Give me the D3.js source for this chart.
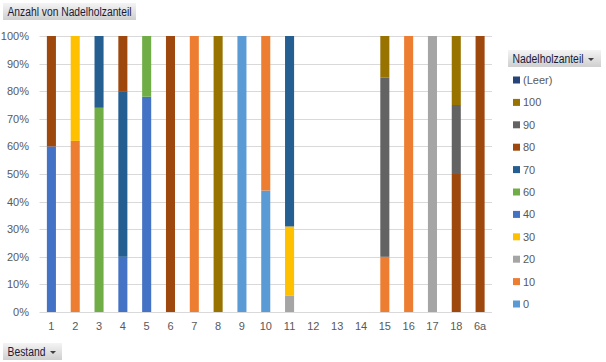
<!DOCTYPE html>
<html lang="en">
<head>
<meta charset="utf-8">
<title>Anzahl von Nadelholzanteil</title>
<script src="https://cdn.jsdelivr.net/npm/d3@7"></script>
<style>
  body { margin: 0; background: #fff; }
  svg text { font-family: "Liberation Sans", Arial, sans-serif; }
</style>
</head>
<body>
<div id="chart"></div>
<script>
// categories (Bestand)
const categories = ["1","2","3","4","5","6","7","8","9","10","11","12","13","14","15","16","17","18","6a"];

// share per Nadelholzanteil, in percent of each Bestand
const s0    = [0,0,0,0,0,0,0,0,100,44,0,0,0,0,0,0,0,0,0];
const s10   = [0,62,0,0,0,0,100,0,0,56,0,0,0,0,20,100,0,0,0];
const s20   = [0,0,0,0,0,0,0,0,0,0,6,0,0,0,0,0,100,0,0];
const s30   = [0,38,0,0,0,0,0,0,0,0,25,0,0,0,0,0,0,0,0];
const s40   = [60,0,0,20,78,0,0,0,0,0,0,0,0,0,0,0,0,0,0];
const s60   = [0,0,74,0,22,0,0,0,0,0,0,0,0,0,0,0,0,0,0];
const s70   = [0,0,26,60,0,0,0,0,0,0,69,0,0,0,0,0,0,0,0];
const s80   = [40,0,0,20,0,100,0,0,0,0,0,0,0,0,0,0,0,50,100];
const s90   = [0,0,0,0,0,0,0,0,0,0,0,0,0,0,65,0,0,25,0];
const s100  = [0,0,0,0,0,0,0,100,0,0,0,0,0,0,15,0,0,25,0];
const sLeer = [0,0,0,0,0,0,0,0,0,0,0,0,0,0,0,0,0,0,0];

const seriesNames = ["0","10","20","30","40","60","70","80","90","100","(Leer)"];
const seriesValues = [s0,s10,s20,s30,s40,s60,s70,s80,s90,s100,sLeer];
const seriesColors = ["#5B9BD5","#ED7D31","#A5A5A5","#FFC000","#4472C4","#70AD47","#255E91","#9E480E","#636363","#997300","#264478"];

const yTicks = [0,10,20,30,40,50,60,70,80,90,100];

const w = 606, h = 362;
const svg = d3.select("#chart").append("svg")
  .attr("width", w).attr("height", h);

const defs = svg.append("defs");
const grad = defs.append("linearGradient").attr("id", "btn").attr("x1", 0).attr("y1", 0).attr("x2", 0).attr("y2", 1);
grad.append("stop").attr("offset", "0%").attr("stop-color", "#f4f4f4");
grad.append("stop").attr("offset", "100%").attr("stop-color", "#cfcfcf");

// table for the stack
const table = categories.map(function(c, i) {
  let row = { cat: c };
  seriesNames.forEach(function(n, k) { row[n] = seriesValues[k][i]; });
  return row;
});
const stacked = d3.stack().keys(seriesNames)(table);

const x = d3.scaleBand().domain(categories).range([39.5, 492]).paddingInner(0.62).paddingOuter(0.31);
const y = d3.scaleLinear().domain([0, 100]).range([312, 36]);

// gridlines
svg.append("g")
  .selectAll("line")
  .data(yTicks)
  .join("line")
    .attr("x1", 39.5).attr("x2", 492)
    .attr("y1", function(d) { return Math.round(y(d)) + 0.5; })
    .attr("y2", function(d) { return Math.round(y(d)) + 0.5; })
    .attr("stroke", "#d9d9d9").attr("stroke-width", 1);

// y axis labels
const yAxis = svg.append("g")
  .attr("transform", "translate(39,0)")
  .call(d3.axisLeft(y).tickValues(yTicks).tickSize(0).tickPadding(10).tickFormat(function(d) { return d + "%"; }));
yAxis.select(".domain").remove();
yAxis.selectAll("text").attr("fill", "#595959").style("font-size", "11px");

// x axis labels
const xAxis = svg.append("g")
  .attr("transform", "translate(0,312)")
  .call(d3.axisBottom(x).tickSize(0).tickPadding(10));
xAxis.select(".domain").remove();
xAxis.selectAll("text").attr("fill", "#595959").style("font-size", "11px");

// bars
svg.append("g")
  .selectAll("g")
  .data(stacked)
  .join("g")
    .attr("fill", function(d, i) { return seriesColors[i]; })
  .selectAll("rect")
  .data(function(d) { return d; })
  .join("rect")
    .attr("x", function(d) { return x(d.data.cat); })
    .attr("width", x.bandwidth())
    .attr("y", function(d) { return y(d[1]); })
    .attr("height", function(d) { return y(d[0]) - y(d[1]); });

// field buttons
function button(x0, y0, bw, label, tw) {
  const g = svg.append("g").attr("transform", "translate(" + x0 + "," + y0 + ")");
  g.append("rect").attr("width", bw).attr("height", 17).attr("fill", "url(#btn)");
  g.append("text").attr("x", 4.5).attr("y", 13)
    .attr("textLength", tw).attr("lengthAdjust", "spacingAndGlyphs")
    .attr("fill", "#1a1a3a").style("font-size", "12.5px").text(label);
  return g;
}
button(3, 3, 133, "Anzahl von Nadelholzanteil", 124);
const b1 = button(3, 343, 59, "Bestand", 38);
b1.append("path").attr("d", "M47,8 L53,8 L50,11 Z").attr("fill", "#404040");
const b2 = button(508, 50, 93, "Nadelholzanteil", 71);
b2.append("path").attr("d", "M80,8 L86,8 L83,11 Z").attr("fill", "#404040");

// legend (reverse order)
const legendItems = seriesNames.map(function(n, i) { return { name: n, color: seriesColors[i] }; }).reverse();
const lg = svg.append("g")
  .selectAll("g")
  .data(legendItems)
  .join("g")
    .attr("transform", function(d, i) { return "translate(513," + (80 + i * 22.4) + ")"; });
lg.append("rect").attr("x", 0).attr("y", -3.5).attr("width", 7).attr("height", 7)
  .attr("fill", function(d) { return d.color; });
lg.append("text").attr("x", 10).attr("y", 4)
  .attr("fill", "#595959").style("font-size", "11px")
  .text(function(d) { return d.name; });
</script>
</body>
</html>
